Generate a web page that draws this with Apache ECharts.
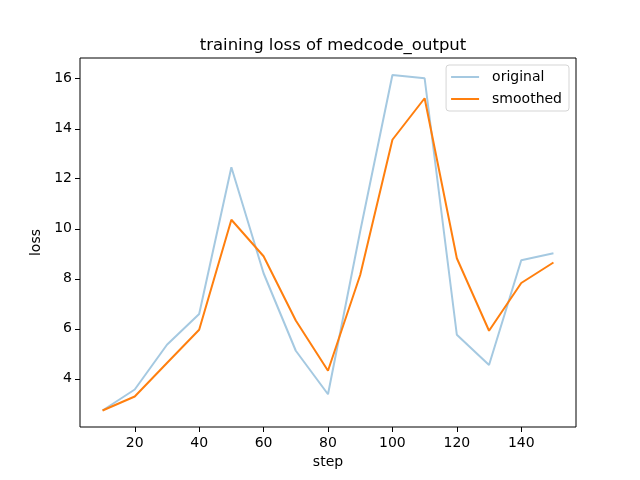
<!DOCTYPE html>
<html>
<head>
<meta charset="utf-8">
<script src="https://cdn.jsdelivr.net/npm/echarts@6/dist/echarts.min.js"></script>
<style>html,body{margin:0;padding:0;background:#fff}#c{width:640px;height:480px}</style>
</head>
<body>
<div id="c"></div>
<script>
const steps = [10, 20, 30, 40, 50, 60, 70, 80, 90, 100, 110, 120, 130, 140, 150];
const original = [2.73, 3.57, 5.36, 6.59, 12.46, 8.22, 5.12, 3.38, 9.9, 16.15, 16.02, 5.76, 4.55, 8.74, 9.02];
const smoothed = [2.73, 3.29, 4.63, 5.96, 10.36, 8.9, 6.33, 4.32, 8.15, 13.56, 15.22, 8.82, 5.92, 7.83, 8.65];
const xTicks = [20, 40, 60, 80, 100, 120, 140];
const yTicks = [4, 6, 8, 10, 12, 14, 16];
const titleText = 'training loss of medcode_output';

const font = 'DejaVu Sans';
const chart = echarts.init(document.getElementById('c'), null, {renderer: 'canvas'});
chart.setOption({
  animation: false,
  backgroundColor: '#fff',
  title: {
    text: titleText, left: 328, top: 32, textAlign: 'center',
    textStyle: {fontFamily: font, fontSize: 16.5, fontWeight: 'normal', color: '#000'}
  },
  grid: {left: 80, right: 64, top: 58, bottom: 53, show: true, borderColor: '#000', borderWidth: 1, backgroundColor: 'transparent'},
  legend: {
    orient: 'vertical', right: 71, top: 65,
    itemWidth: 28, itemHeight: 14, itemGap: 8,
    padding: [5, 7, 5, 4],
    borderColor: '#d5d5d5', borderWidth: 1, borderRadius: 3,
    backgroundColor: '#fff',
    itemStyle: {opacity: 0},
    lineStyle: {width: 2},
    textStyle: {fontFamily: font, fontSize: 14, color: '#000', padding: [0, 0, 0, 8]},
    data: ['original', 'smoothed']
  },
  xAxis: {
    type: 'value', min: 3, max: 157,
    name: 'step', nameLocation: 'middle', nameGap: 26,
    nameTextStyle: {fontFamily: font, fontSize: 14, color: '#000'},
    axisLine: {show: false},
    axisTick: {show: true, length: 5, lineStyle: {color: '#000'}, customValues: xTicks},
    axisLabel: {fontFamily: font, fontSize: 14, color: '#000', margin: 9, customValues: xTicks},
    splitLine: {show: false}
  },
  yAxis: {
    type: 'value', min: 2.07, max: 16.83,
    name: 'loss', nameLocation: 'middle', nameGap: 34,
    nameTextStyle: {fontFamily: font, fontSize: 14, color: '#000'},
    axisLine: {show: false},
    axisTick: {show: true, length: 5, lineStyle: {color: '#000'}, customValues: yTicks},
    axisLabel: {fontFamily: font, fontSize: 14, color: '#000', margin: 8, customValues: yTicks},
    splitLine: {show: false}
  },
  series: [
    {name: 'original', type: 'line', symbol: 'none', color: 'rgb(165,201,225)',
     lineStyle: {width: 2, color: 'rgb(165,201,225)'},
     data: steps.map((s, i) => [s, original[i]])},
    {name: 'smoothed', type: 'line', symbol: 'none', color: '#ff7f0e',
     lineStyle: {width: 2, color: '#ff7f0e'},
     data: steps.map((s, i) => [s, smoothed[i]])}
  ]
});
</script>
</body>
</html>
